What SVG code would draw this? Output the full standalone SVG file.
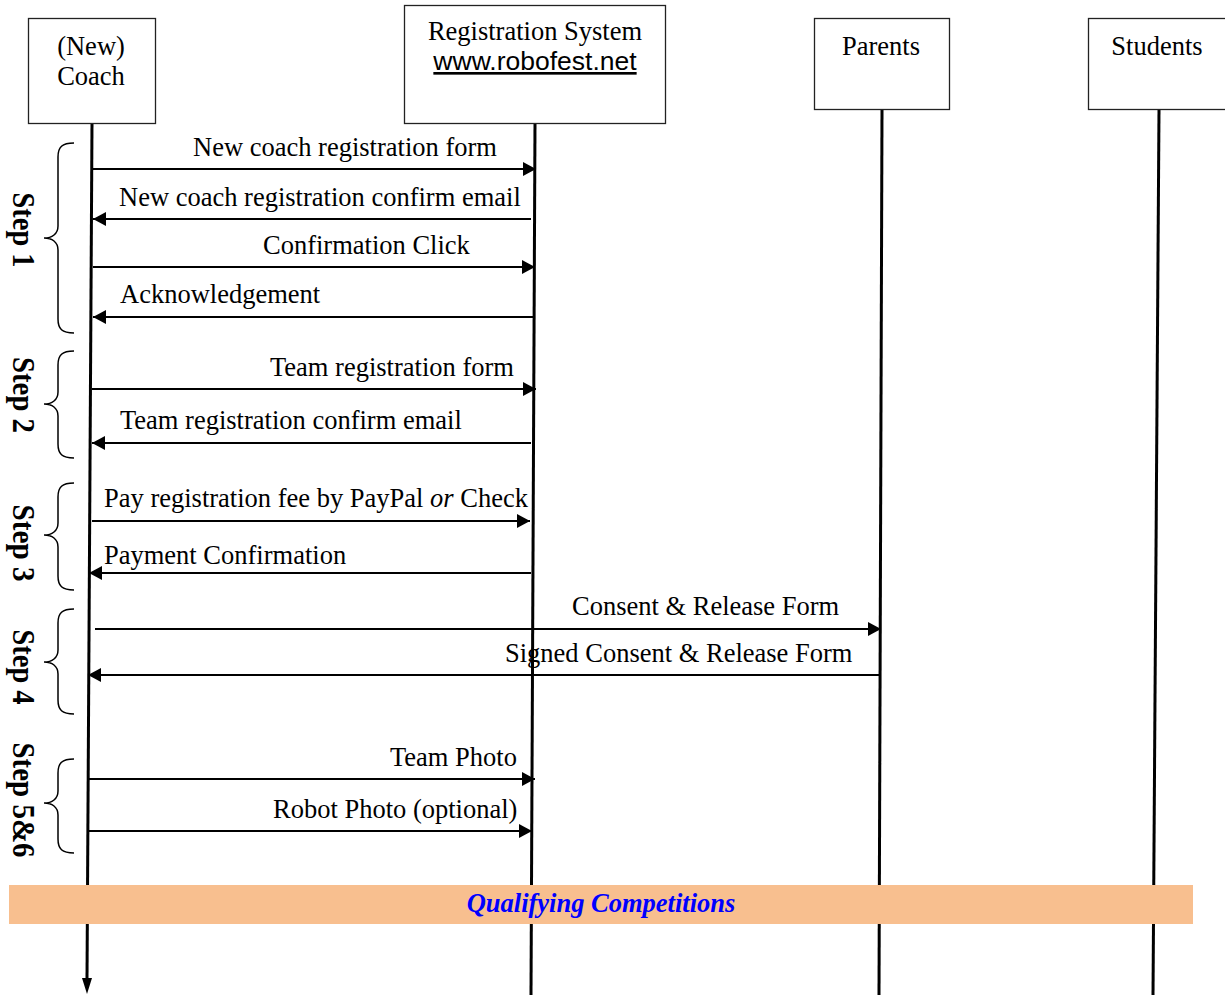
<svg xmlns="http://www.w3.org/2000/svg" width="1225" height="995" viewBox="0 0 1225 995">
<style>
.box{fill:#fff;stroke:#222;stroke-width:1.3}
.t{font-family:"Liberation Serif","Times New Roman",serif;font-size:26.5px;fill:#000}
.a{font-family:"Liberation Sans",Arial,sans-serif;font-size:26.5px;fill:#000}
.life{stroke:#000;stroke-width:3;fill:none}
.msg{stroke:#000;stroke-width:2;fill:none}
.brace{stroke:#000;stroke-width:1.5;fill:none}
.step{font-family:"Liberation Serif","Times New Roman",serif;font-size:31px;font-weight:bold;fill:#000}
</style>
<defs>
<marker id="ah" markerUnits="userSpaceOnUse" markerWidth="14" markerHeight="15" refX="13" refY="7" orient="auto">
<path d="M0,0 L13,7 L0,14 z" fill="#000"/>
</marker>
</defs>

<g id="lifelines">
<line class="life" x1="92" y1="123" x2="87" y2="980"/>
<polygon points="82,978 92,978 87,994" fill="#000"/>
<line class="life" x1="535" y1="123" x2="531" y2="995"/>
<line class="life" x1="882" y1="110" x2="879" y2="995"/>
<line class="life" x1="1159" y1="110" x2="1153" y2="995"/>
</g>

<g id="coach">
<rect class="box" x="28.5" y="18.5" width="127" height="105"/>
<text class="t" x="91" y="55" text-anchor="middle">(New)</text>
<text class="t" x="91" y="85" text-anchor="middle">Coach</text>
</g>
<g id="registration-system">
<rect class="box" x="404.5" y="5.5" width="261" height="118"/>
<text class="t" x="535" y="40" text-anchor="middle">Registration System</text>
<text class="a" x="535" y="70" text-anchor="middle" text-decoration="underline">www.robofest.net</text>
</g>
<g id="parents">
<rect class="box" x="814.5" y="18.5" width="135" height="91"/>
<text class="t" x="881" y="55" text-anchor="middle">Parents</text>
</g>
<g id="students">
<rect class="box" x="1088.5" y="18.5" width="150" height="91"/>
<text class="t" x="1157" y="55" text-anchor="middle">Students</text>
</g>

<g id="connectors">
<line class="msg" x1="93" y1="169" x2="536" y2="169" marker-end="url(#ah)"/>
<line class="msg" x1="531" y1="219" x2="93" y2="219" marker-end="url(#ah)"/>
<line class="msg" x1="93" y1="267" x2="535" y2="267" marker-end="url(#ah)"/>
<line class="msg" x1="533" y1="317" x2="93" y2="317" marker-end="url(#ah)"/>
<line class="msg" x1="92" y1="389" x2="536" y2="389" marker-end="url(#ah)"/>
<line class="msg" x1="531" y1="443" x2="92" y2="443" marker-end="url(#ah)"/>
<line class="msg" x1="92" y1="521" x2="530" y2="521" marker-end="url(#ah)"/>
<line class="msg" x1="531" y1="573" x2="89" y2="573" marker-end="url(#ah)"/>
<line class="msg" x1="95" y1="629" x2="881" y2="629" marker-end="url(#ah)"/>
<line class="msg" x1="880" y1="675" x2="88" y2="675" marker-end="url(#ah)"/>
<line class="msg" x1="89" y1="779" x2="535" y2="779" marker-end="url(#ah)"/>
<line class="msg" x1="89" y1="831" x2="532" y2="831" marker-end="url(#ah)"/>

<text class="t" x="193" y="156">New coach registration form</text>
<text class="t" x="119" y="206">New coach registration confirm email</text>
<text class="t" x="263" y="254">Confirmation Click</text>
<text class="t" x="120" y="303">Acknowledgement</text>
<text class="t" x="270" y="376">Team registration form</text>
<text class="t" x="120" y="429">Team registration confirm email</text>
<text class="t" x="104" y="507">Pay registration fee by PayPal <tspan font-style="italic">or</tspan> Check</text>
<text class="t" x="104" y="564">Payment Confirmation</text>
<text class="t" x="572" y="615">Consent &amp; Release Form</text>
<text class="t" x="505" y="662">Signed Consent &amp; Release Form</text>
<text class="t" x="390" y="766">Team Photo</text>
<text class="t" x="273" y="818">Robot Photo (optional)</text>
</g>

<g id="steps">
<path class="brace" d="M74,143 C62,143 58,147 58,157 L58,226 C58,234 52,238 44,238 C52,238 58,242 58,250 L58,319 C58,329 62,333 74,333"/>
<path class="brace" d="M74,351 C62,351 58,355 58,365 L58,392 C58,400 52,404 44,404 C52,404 58,408 58,416 L58,444 C58,454 62,458 74,458"/>
<path class="brace" d="M74,483 C62,483 58,487 58,497 L58,523 C58,531 52,535 44,535 C52,535 58,539 58,547 L58,576 C58,586 62,590 74,590"/>
<path class="brace" d="M74,609 C62,609 58,613 58,623 L58,650 C58,658 52,662 44,662 C52,662 58,666 58,674 L58,700 C58,710 62,714 74,714"/>
<path class="brace" d="M74,759 C62,759 58,763 58,773 L58,791 C58,799 52,803 44,803 C52,803 58,807 58,815 L58,839 C58,849 62,853 74,853"/>
<text class="step" transform="translate(13,230) rotate(90)" text-anchor="middle" textLength="75" lengthAdjust="spacingAndGlyphs">Step 1</text>
<text class="step" transform="translate(13,395) rotate(90)" text-anchor="middle" textLength="76" lengthAdjust="spacingAndGlyphs">Step 2</text>
<text class="step" transform="translate(13,543) rotate(90)" text-anchor="middle" textLength="77" lengthAdjust="spacingAndGlyphs">Step 3</text>
<text class="step" transform="translate(13,667) rotate(90)" text-anchor="middle" textLength="75" lengthAdjust="spacingAndGlyphs">Step 4</text>
<text class="step" transform="translate(13,800) rotate(90)" text-anchor="middle" textLength="115" lengthAdjust="spacingAndGlyphs">Step 5&amp;6</text>
</g>

<g id="qualifying-competitions">
<rect x="9" y="885" width="1184" height="39" fill="#F8BF8F"/>
<text x="601" y="912" text-anchor="middle" font-family="'Liberation Serif','Times New Roman',serif" font-size="26.5" font-weight="bold" font-style="italic" fill="#0000FF">Qualifying Competitions</text>
</g>
</svg>
